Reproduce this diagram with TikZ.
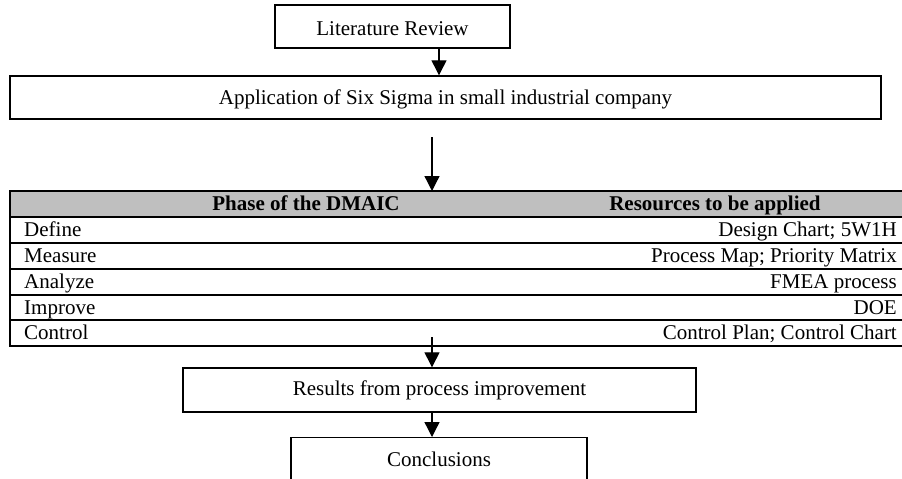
\documentclass[tikz,border=0pt]{standalone}
\usepackage{fontspec}
\setmainfont{Liberation Serif}
\usetikzlibrary{arrows.meta}
\begin{document}
\begin{tikzpicture}[x=1pt,y=-1pt,
  every node/.style={font=\fontsize{21}{25}\selectfont, inner sep=0pt,
    text height=14.5pt, text depth=4.5pt},
  box/.style={draw=black, line width=1.4pt, fill=white},
  arr/.style={line width=1.3pt, -{Triangle[length=15pt,width=15pt]}},
  rule/.style={line width=1.6pt},
  headfill/.style={fill=black!25}]
\useasboundingbox (0,0) rectangle (902,479);

% flow boxes
\node[box, minimum width=235pt, minimum height=43pt] (lit) at (392.5,26.5) {};
\node (littext) at (392.5,30) {Literature Review};
\node[box, minimum width=871pt, minimum height=43pt] (app) at (445.5,97.5) {};
\node (apptext) at (445.5,99) {Application of Six Sigma in small industrial company};

% DMAIC table
\fill[headfill] (10,191) rectangle (902,217);
\foreach \yy in {191,217,243,269,295,320,346}
  \draw[rule] (9,\yy) -- (902,\yy);
\draw[rule] (10,191) -- (10,346);
\node[font=\fontsize{21}{25}\selectfont\bfseries] (h1) at (306,205.5) {Phase of the DMAIC};
\node[font=\fontsize{21}{25}\selectfont\bfseries] (h2) at (715,205.5) {Resources to be applied};
\node[anchor=west] (p1) at (24,231.5) {Define};
\node[anchor=west] (p2) at (24,257.5) {Measure};
\node[anchor=west] (p3) at (24,283.5) {Analyze};
\node[anchor=west] (p4) at (24,309) {Improve};
\node[anchor=west] (p5) at (24,334.5) {Control};
\node[anchor=east] (r1) at (897,231.5) {Design Chart; 5W1H};
\node[anchor=east] (r2) at (897,257.5) {Process Map; Priority Matrix};
\node[anchor=east] (r3) at (897,283.5) {FMEA process};
\node[anchor=east] (r4) at (897,309) {DOE};
\node[anchor=east] (r5) at (897,334.5) {Control Plan; Control Chart};
\coordinate (tabtop) at (432,191);

\node[box, minimum width=513pt, minimum height=44pt] (res) at (439.5,390) {Results from process improvement};
\node[box, minimum width=296pt, minimum height=70pt, anchor=north] (concl) at (439,437) {};
\node (concltext) at (439,461) {Conclusions};

% connectors
\coordinate (c1) at (439,0);
\coordinate (c2) at (432,0);
\coordinate (s2) at (432,137);
\coordinate (s3) at (432,337);
\draw[arr] (lit.south -| c1) -- (app.north -| c1);
\draw[arr] (s2) -- (tabtop);
\draw[arr] (s3) -- (res.north -| c2);
\draw[arr] (res.south -| c2) -- (concl.north -| c2);
\end{tikzpicture}
\end{document}
